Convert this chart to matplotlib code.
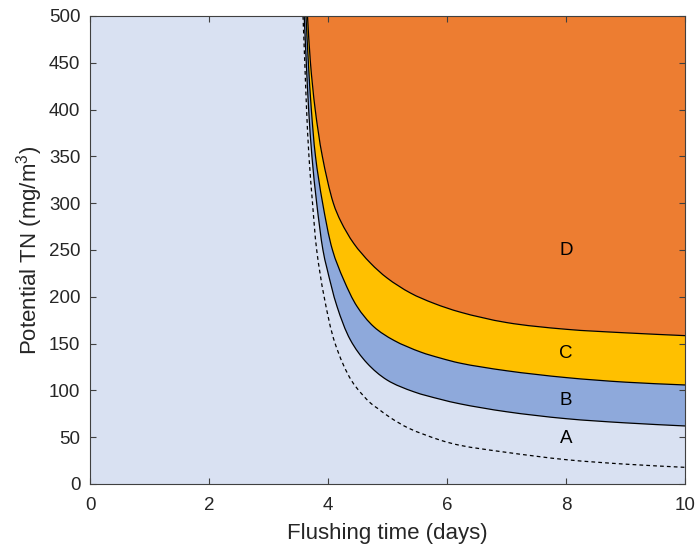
import matplotlib
matplotlib.use("Agg")
import matplotlib.pyplot as plt
from matplotlib.path import Path
from matplotlib.patches import PathPatch
import numpy as np

plt.rcParams['font.family'] = ['Liberation Sans', 'DejaVu Sans']
plt.rcParams['mathtext.default'] = 'regular'

# Curve readings (flushing time in days, potential TN in mg/m3)
dash_x = [3.58, 3.61, 3.64, 3.68, 3.74, 3.81, 3.935, 4.12, 4.40, 4.714, 4.83, 5.05, 5.36, 5.89, 6.229, 7.0, 8.0, 9.0, 10.0]
dash_y = [500, 450, 400, 350, 300, 250, 200, 150, 110, 86.5, 81, 70.8, 59.5, 46.8, 41.2, 33.8, 26, 21.2, 17.8]

ab_x = [3.600, 3.635, 3.675, 3.73, 3.81, 3.915, 3.984, 4.153, 4.377, 4.658, 4.995, 5.443, 5.89, 6.229, 7.0, 8.0, 9.0, 10.0]
ab_y = [500, 450, 400, 350, 300, 250, 230, 189.4, 153.8, 129, 111, 98.5, 90.5, 85.5, 77.2, 69.8, 65.3, 62.0]

bc_x = [3.63, 3.67, 3.72, 3.79, 3.91, 4.075, 4.265, 4.49, 4.77, 5.106, 5.556, 5.89, 6.229, 7.0, 8.0, 9.0, 10.0]
bc_y = [500, 450, 400, 350, 300, 250, 218, 189.5, 168, 153.5, 141, 134.5, 129, 121, 113.7, 108.8, 105.8]

cd_x = [3.655, 3.705, 3.785, 3.905, 4.09, 4.22, 4.433, 4.714, 4.995, 5.387, 5.78, 6.229, 7.0, 8.0, 9.0, 10.0]
cd_y = [500, 450, 400, 350, 300, 280, 257, 236, 220, 204, 193, 183.5, 172.5, 165.3, 161.5, 158.5]

zone_labels = ['A', 'B', 'C', 'D']
zone_label_x = [8, 8, 8, 8]
zone_label_y = [48.8, 89.7, 139.6, 249]

x_ticks = [0, 2, 4, 6, 8, 10]
y_ticks = [0, 50, 100, 150, 200, 250, 300, 350, 400, 450, 500]

col_a = '#D9E1F2'
col_b = '#8EA9DB'
col_c = '#FFC000'
col_d = '#ED7D31'

XMAX, YMAX = 10.0, 500.0
ASPECT = (484 - 16) / (685 - 90)  # axes height / width in pixels


def smooth_segments(xs, ys):
    """Centripetal Catmull-Rom through the read points, as cubic Bezier control points."""
    P = np.column_stack([np.asarray(xs, float) / XMAX, np.asarray(ys, float) / YMAX * ASPECT])
    n = len(P)
    ext = np.vstack([2 * P[0] - P[1], P, 2 * P[-1] - P[-2]])
    verts = [P[0]]
    for i in range(n - 1):
        p0, p1, p2, p3 = ext[i], ext[i + 1], ext[i + 2], ext[i + 3]
        d1 = np.linalg.norm(p1 - p0) ** 0.5
        d2 = np.linalg.norm(p2 - p1) ** 0.5
        d3 = np.linalg.norm(p3 - p2) ** 0.5
        b1 = (d1 ** 2 * p2 - d2 ** 2 * p0 + (2 * d1 ** 2 + 3 * d1 * d2 + d2 ** 2) * p1) / (3 * d1 * (d1 + d2))
        b2 = (d3 ** 2 * p1 - d2 ** 2 * p3 + (2 * d3 ** 2 + 3 * d3 * d2 + d2 ** 2) * p2) / (3 * d3 * (d3 + d2))
        verts += [b1, b2, p2]
    V = np.array(verts)
    V[:, 0] *= XMAX
    V[:, 1] = V[:, 1] / ASPECT * YMAX
    return V


def curve_path(xs, ys):
    V = smooth_segments(xs, ys)
    codes = [Path.MOVETO] + [Path.CURVE4] * (len(V) - 1)
    return Path(V, codes)


def band_path(x1, y1, x2, y2):
    V1 = smooth_segments(x1, y1)
    V2 = smooth_segments(x2[::-1], y2[::-1])
    V = np.vstack([V1, V2, V1[:1]])
    codes = ([Path.MOVETO] + [Path.CURVE4] * (len(V1) - 1) + [Path.LINETO] +
             [Path.CURVE4] * (len(V2) - 1) + [Path.CLOSEPOLY])
    return Path(V, codes)


fig = plt.figure(figsize=(6.96, 5.49), dpi=100)
ax = fig.add_axes([90/696, 1-484/549, (685-90)/696, (484-16)/549])
ax.set_xlim(0, 10)
ax.set_ylim(0, 500)
ax.set_facecolor(col_a)

# Zone D: above the C/D boundary
V1 = smooth_segments(cd_x, cd_y)
Vd = np.vstack([V1, [[10, 520], [cd_x[0], 520]], V1[:1]])
codes_d = [Path.MOVETO] + [Path.CURVE4] * (len(V1) - 1) + [Path.LINETO, Path.LINETO, Path.CLOSEPOLY]
ax.add_patch(PathPatch(Path(Vd, codes_d), facecolor=col_d, lw=0, zorder=1))
# Zones C and B
ax.add_patch(PathPatch(band_path(bc_x, bc_y, cd_x, cd_y), facecolor=col_c, lw=0, zorder=1))
ax.add_patch(PathPatch(band_path(ab_x, ab_y, bc_x, bc_y), facecolor=col_b, lw=0, zorder=1))

for xs, ys, ls in [(ab_x, ab_y, '-'), (bc_x, bc_y, '-'), (cd_x, cd_y, '-'),
                   (dash_x, dash_y, (0, (3, 2.5)))]:
    ax.add_patch(PathPatch(curve_path(xs, ys), facecolor='none', edgecolor='black',
                           lw=0.9, ls=ls, zorder=3))

for lab, lx, ly in zip(zone_labels, zone_label_x, zone_label_y):
    ax.text(lx, ly, lab, ha='center', va='center', fontsize=13.5, color='black', zorder=4)

axc = '#262626'
ax.set_xticks(x_ticks)
ax.set_yticks(y_ticks)
ax.tick_params(direction='in', top=True, right=True, length=4, width=0.8,
               colors='#404040', labelsize=13.5, labelcolor=axc)
ax.tick_params(axis='x', pad=9)
ax.tick_params(axis='y', pad=7)
for s in ax.spines.values():
    s.set_color('#404040')
    s.set_linewidth(0.8)
    s.set_zorder(5)

ax.set_xlabel('Flushing time (days)', fontsize=16, color=axc, labelpad=7)
ax.set_ylabel('Potential TN (mg/m$^3$)', fontsize=16, color=axc, labelpad=3)

fig.savefig('out.png', dpi=100)
